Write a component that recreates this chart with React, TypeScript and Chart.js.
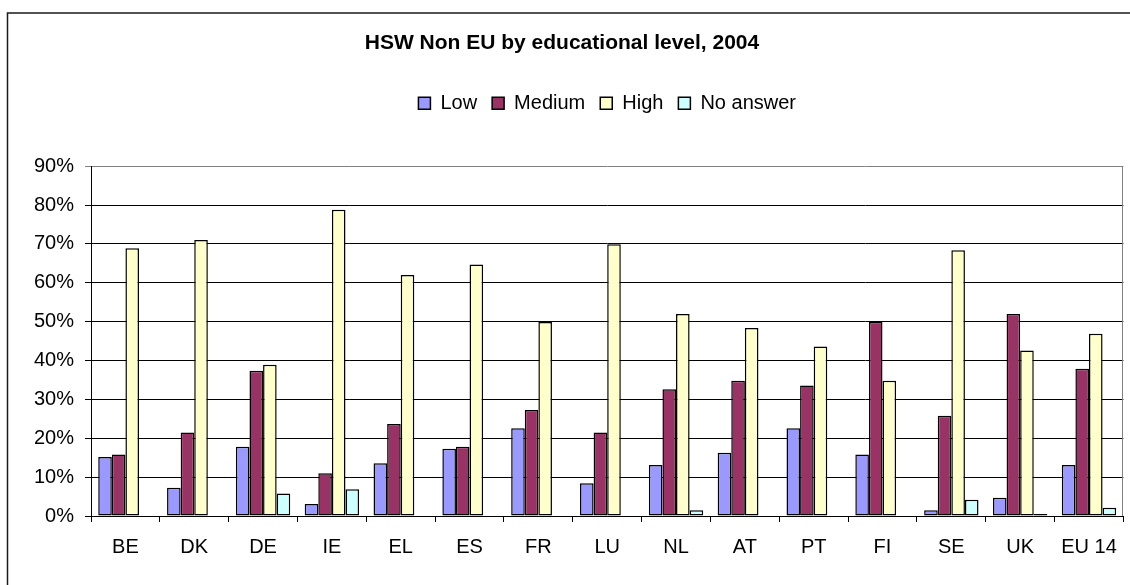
import React, { useEffect, useRef } from "react";
import { Chart, registerables } from "chart.js";

Chart.register(...registerables);

const categories = ["BE", "DK", "DE", "IE", "EL", "ES", "FR", "LU", "NL", "AT", "PT", "FI", "SE", "UK", "EU 14"];
const lowValues = [15.2, 7.3, 17.8, 3.1, 13.6, 17.3, 22.6, 8.4, 13.1, 16.3, 22.6, 15.8, 1.5, 4.7, 13.1];
const mediumValues = [15.8, 21.5, 37.4, 11.0, 23.7, 17.8, 27.3, 21.5, 32.6, 34.8, 33.6, 49.9, 25.8, 52.0, 37.9];
const highValues = [68.9, 71.0, 38.9, 78.8, 62.0, 64.7, 49.9, 69.9, 52.0, 48.4, 43.6, 34.8, 68.4, 42.6, 46.9];
const noAnswerValues = [null, null, 5.8, 6.9, null, null, null, null, 1.5, null, null, null, 4.2, 0.5, 2.1];
const seriesNames = ["Low", "Medium", "High", "No answer"];
const seriesColors = ["#9999FF", "#993366", "#FFFFCC", "#CCFFFF"];
const titleText = "HSW Non EU by educational level, 2004";

const FONT = "'Liberation Sans', Arial, sans-serif";

const framePlugin = {
  id: "frame",
  afterDraw(chart: any) {
    const { ctx, chartArea } = chart;
    ctx.save();
    // outer frame (top and left visible)
    ctx.strokeStyle = "#1a1a1a";
    ctx.lineWidth = 1.5;
    ctx.beginPath();
    ctx.moveTo(7.5, 585);
    ctx.lineTo(7.5, 13);
    ctx.lineTo(1130, 13);
    ctx.stroke();
    // plot area right border
    ctx.strokeStyle = "#808080";
    ctx.lineWidth = 1;
    ctx.beginPath();
    ctx.moveTo(Math.round(chartArea.right) - 0.5, chartArea.top);
    ctx.lineTo(Math.round(chartArea.right) - 0.5, chartArea.bottom);
    ctx.stroke();
    ctx.restore();
  },
};

export default function App() {
  const canvasRef = useRef<HTMLCanvasElement | null>(null);

  useEffect(() => {
    if (!canvasRef.current) return;
    const seriesData = [lowValues, mediumValues, highValues, noAnswerValues];
    const chart = new Chart(canvasRef.current, {
      type: "bar",
      data: {
        labels: categories,
        datasets: seriesNames.map((name, i) => ({
          label: name,
          data: seriesData[i] as any,
          backgroundColor: seriesColors[i],
          borderColor: "#000000",
          borderWidth: 1.5,
          borderSkipped: false,
          categoryPercentage: 0.79,
          barPercentage: 1,
        })),
      },
      options: {
        responsive: false,
        animation: false,
        layout: { padding: { left: 0, right: 6, top: 0, bottom: 0 } },
        plugins: {
          tooltip: { enabled: false },
          title: {
            display: true,
            text: titleText,
            color: "#000",
            font: { family: FONT, size: 21, weight: "bold", lineHeight: 1.2 },
            padding: { top: 31, bottom: 22 },
          },
          subtitle: {
            display: true,
            text: "",
            weight: 100,
            font: { family: FONT, size: 10, lineHeight: 1.2 },
            padding: { top: 0, bottom: 31 },
          } as any,
          legend: {
            display: true,
            position: "top",
            fullSize: false,
            labels: {
              color: "#000",
              font: { family: FONT, size: 20 },
              boxWidth: 12,
              boxHeight: 12,
              padding: 15,
            },
          },
        },
        scales: {
          x: {
            afterFit: (scale: any) => {
              scale.height = 69;
            },
            grid: {
              offset: true,
              drawOnChartArea: false,
              drawTicks: true,
              tickLength: 6,
              color: "#000",
            },
            border: { color: "#000", width: 1 },
            ticks: {
              color: "#000",
              font: { family: FONT, size: 20 },
              padding: 13,
              maxRotation: 0,
              autoSkip: false,
            },
          },
          y: {
            min: 0,
            max: 90,
            afterFit: (scale: any) => {
              scale.width = 91;
            },
            grid: {
              color: (c: any) => (c.tick && c.tick.value === 90 ? "#808080" : "#000"),
              tickLength: 6,
              drawTicks: true,
            },
            border: { color: "#000", width: 1 },
            ticks: {
              stepSize: 10,
              color: "#000",
              font: { family: FONT, size: 20 },
              padding: 11,
              callback: (v: any) => `${v}%`,
            },
          },
        },
      },
      plugins: [framePlugin],
    });
    return () => chart.destroy();
  }, []);

  return (
    <div style={{ position: "fixed", left: 0, top: 0, width: 1130, height: 585, background: "#fff" }}>
      <canvas ref={canvasRef} width={1130} height={585} />
    </div>
  );
}
